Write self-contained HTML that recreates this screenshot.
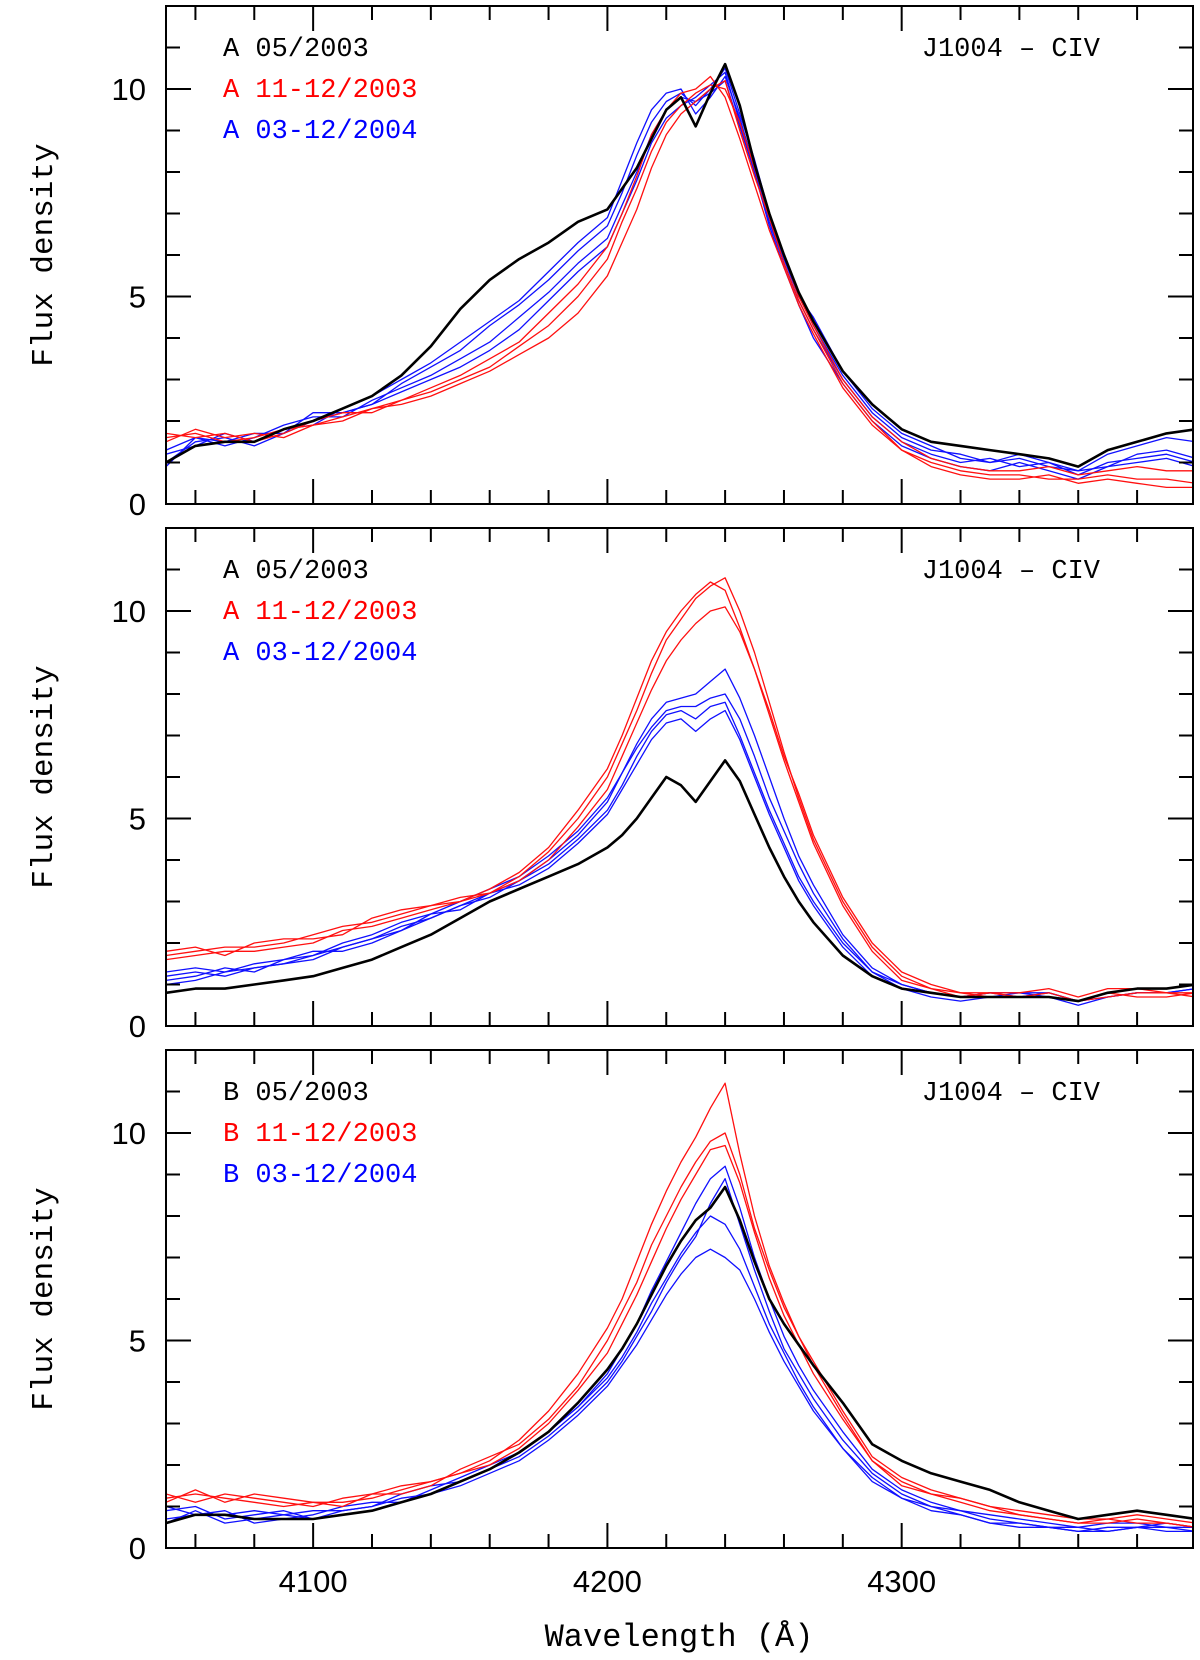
<!DOCTYPE html>
<html><head><meta charset="utf-8"><style>
html,body{margin:0;padding:0;background:#fff;}
svg{display:block;}
</style></head><body>
<svg id="chart" width="1200" height="1660" viewBox="0 0 1200 1660" xmlns="http://www.w3.org/2000/svg"></svg>
<script>
const wl=[4050,4060,4070,4080,4090,4100,4110,4120,4130,4140,4150,4160,4170,4180,4190,4200,4205,4210,4215,4220,4225,4230,4235,4240,4245,4250,4255,4260,4265,4270,4280,4290,4300,4310,4320,4330,4340,4350,4360,4370,4380,4390,4400];
const xTicks=[4100,4200,4300];
const yTicks=[0,5,10];
const legendLabels=[["A 05/2003","A 11-12/2003","A 03-12/2004"],["A 05/2003","A 11-12/2003","A 03-12/2004"],["B 05/2003","B 11-12/2003","B 03-12/2004"]];
// Panel 1
const p1Black=[1.0,1.4,1.5,1.5,1.8,2.0,2.3,2.6,3.1,3.8,4.7,5.4,5.9,6.3,6.8,7.1,7.6,8.1,8.8,9.5,9.8,9.1,9.9,10.6,9.6,8.2,7.0,6.0,5.1,4.4,3.2,2.4,1.8,1.5,1.4,1.3,1.2,1.1,0.9,1.3,1.5,1.7,1.8];
const p1Red1=[1.6,1.7,1.5,1.6,1.8,1.9,2.1,2.3,2.4,2.6,2.9,3.2,3.6,4.0,4.6,5.5,6.3,7.1,8.1,8.9,9.4,9.7,10.0,10.2,9.0,7.9,6.9,5.8,4.9,4.2,2.9,2.0,1.3,1.0,0.8,0.7,0.7,0.6,0.6,0.7,0.6,0.6,0.5];
const p1Red2=[1.7,1.6,1.7,1.5,1.7,2.0,2.2,2.2,2.5,2.7,3.0,3.3,3.8,4.3,5.0,5.9,6.8,7.6,8.5,9.2,9.6,9.9,10.1,10.0,9.2,8.1,7.0,6.0,5.0,4.3,3.0,2.1,1.5,1.1,0.9,0.8,0.8,0.9,0.7,0.8,0.9,0.8,0.8];
const p1Red3=[1.5,1.8,1.6,1.7,1.6,1.9,2.0,2.3,2.5,2.8,3.1,3.5,3.9,4.6,5.3,6.2,7.0,7.9,8.9,9.5,9.9,10.0,10.3,9.8,8.8,7.7,6.6,5.7,4.8,4.1,2.8,1.9,1.3,0.9,0.7,0.6,0.6,0.7,0.5,0.6,0.5,0.4,0.4];
const p1Blue1=[1.0,1.5,1.6,1.4,1.7,2.0,2.2,2.4,2.9,3.3,3.7,4.3,4.8,5.4,6.1,6.7,7.5,8.4,9.2,9.7,9.9,9.6,10.0,10.5,9.4,8.3,7.0,6.0,5.1,4.3,3.1,2.2,1.6,1.3,1.2,1.0,1.1,0.9,0.8,1.2,1.4,1.6,1.5];
const p1Blue2=[1.3,1.6,1.4,1.6,1.9,2.1,2.1,2.5,2.8,3.1,3.5,3.9,4.5,5.1,5.8,6.4,7.2,8.0,8.9,9.5,9.8,9.7,9.9,10.2,9.1,8.0,6.8,5.8,4.9,4.2,3.0,2.1,1.5,1.2,1.0,1.1,0.9,1.0,0.7,1.0,1.1,1.2,1.0];
const p1Blue3=[1.2,1.4,1.7,1.5,1.8,1.9,2.3,2.6,3.0,3.4,3.9,4.4,4.9,5.6,6.3,6.9,7.8,8.7,9.5,9.9,10.0,9.4,9.8,10.3,9.3,8.1,6.9,5.9,5.0,4.5,3.2,2.3,1.7,1.4,1.1,1.0,1.2,1.0,0.8,0.9,1.2,1.3,1.1];
const p1Blue4=[0.9,1.6,1.5,1.7,1.7,2.2,2.2,2.4,2.7,3.0,3.3,3.7,4.2,4.9,5.6,6.2,7.0,7.8,8.7,9.3,9.6,9.8,10.1,10.4,9.2,8.0,6.7,5.7,4.8,4.0,2.9,2.0,1.4,1.1,0.9,0.8,1.0,0.8,0.6,0.9,1.0,1.1,0.9];
// Panel 2
const p2Black=[0.8,0.9,0.9,1.0,1.1,1.2,1.4,1.6,1.9,2.2,2.6,3.0,3.3,3.6,3.9,4.3,4.6,5.0,5.5,6.0,5.8,5.4,5.9,6.4,5.9,5.1,4.3,3.6,3.0,2.5,1.7,1.2,0.9,0.8,0.7,0.7,0.7,0.7,0.6,0.8,0.9,0.9,1.0];
const p2Red1=[1.7,1.8,1.9,1.9,2.0,2.2,2.4,2.5,2.7,2.9,3.0,3.2,3.6,4.2,5.0,6.0,6.8,7.6,8.5,9.3,9.8,10.3,10.6,10.8,10.0,9.0,7.8,6.6,5.5,4.5,3.0,1.9,1.2,0.9,0.8,0.7,0.7,0.8,0.6,0.7,0.8,0.8,0.7];
const p2Red2=[1.6,1.7,1.8,1.8,1.9,2.0,2.3,2.4,2.6,2.8,3.0,3.3,3.7,4.3,5.2,6.2,7.0,7.9,8.8,9.5,10.0,10.4,10.7,10.5,9.6,8.6,7.5,6.4,5.4,4.4,2.9,1.8,1.1,0.9,0.7,0.8,0.7,0.7,0.6,0.8,0.7,0.7,0.8];
const p2Red3=[1.8,1.9,1.7,2.0,2.1,2.1,2.2,2.6,2.8,2.9,3.1,3.2,3.5,4.0,4.8,5.7,6.5,7.3,8.1,8.8,9.3,9.7,10.0,10.1,9.5,8.6,7.6,6.5,5.6,4.6,3.1,2.0,1.3,1.0,0.8,0.8,0.8,0.9,0.7,0.9,0.9,0.8,0.8];
const p2Blue1=[1.2,1.3,1.2,1.4,1.5,1.7,1.9,2.1,2.4,2.6,2.9,3.2,3.5,3.9,4.5,5.2,5.8,6.5,7.1,7.5,7.6,7.4,7.7,7.8,7.0,6.1,5.2,4.4,3.6,3.0,2.0,1.3,0.9,0.8,0.7,0.8,0.8,0.8,0.6,0.8,0.9,0.9,1.0];
const p2Blue2=[1.1,1.2,1.4,1.3,1.6,1.8,1.8,2.0,2.3,2.6,2.9,3.1,3.5,4.0,4.6,5.4,6.1,6.8,7.4,7.8,7.9,8.0,8.3,8.6,7.9,7.0,6.0,5.0,4.1,3.4,2.2,1.4,1.0,0.8,0.7,0.7,0.8,0.7,0.6,0.7,0.8,0.8,0.9];
const p2Blue3=[1.0,1.1,1.3,1.4,1.5,1.6,1.9,2.1,2.3,2.7,2.8,3.2,3.4,3.8,4.4,5.1,5.7,6.3,6.9,7.3,7.4,7.1,7.4,7.6,6.9,6.0,5.1,4.3,3.5,2.9,1.9,1.2,0.9,0.7,0.6,0.7,0.7,0.7,0.5,0.7,0.8,0.8,0.9];
const p2Blue4=[1.3,1.4,1.3,1.5,1.6,1.7,2.0,2.2,2.5,2.7,3.0,3.3,3.6,4.1,4.7,5.5,6.1,6.7,7.2,7.6,7.7,7.7,7.9,8.0,7.4,6.5,5.5,4.7,3.9,3.2,2.1,1.3,1.0,0.8,0.7,0.8,0.7,0.8,0.6,0.8,0.9,0.9,1.0];
// Panel 3
const p3Black=[0.6,0.8,0.8,0.7,0.7,0.7,0.8,0.9,1.1,1.3,1.6,1.9,2.3,2.8,3.5,4.3,4.8,5.4,6.1,6.8,7.4,7.9,8.2,8.7,7.9,6.9,6.0,5.4,4.9,4.4,3.5,2.5,2.1,1.8,1.6,1.4,1.1,0.9,0.7,0.8,0.9,0.8,0.7];
const p3Red1=[1.2,1.3,1.2,1.1,1.0,1.1,1.1,1.2,1.4,1.6,1.8,2.1,2.6,3.3,4.2,5.3,6.0,6.9,7.8,8.6,9.3,9.9,10.6,11.2,9.5,8.0,6.8,5.9,5.1,4.4,3.2,2.1,1.6,1.3,1.2,1.0,0.8,0.7,0.6,0.6,0.7,0.6,0.5];
const p3Red2=[1.3,1.1,1.3,1.2,1.1,1.0,1.2,1.3,1.3,1.5,1.9,2.2,2.5,3.1,3.9,5.0,5.7,6.4,7.3,8.0,8.7,9.3,9.8,10.0,9.0,7.7,6.7,5.8,5.1,4.5,3.3,2.2,1.7,1.4,1.2,1.0,0.9,0.8,0.7,0.7,0.8,0.7,0.6];
const p3Red3=[1.1,1.4,1.1,1.3,1.2,1.1,1.0,1.3,1.5,1.6,1.8,2.0,2.4,3.0,3.8,4.7,5.4,6.1,6.9,7.7,8.4,9.0,9.6,9.7,8.8,7.6,6.5,5.6,4.9,4.2,3.1,2.1,1.5,1.3,1.1,0.9,0.8,0.7,0.6,0.7,0.6,0.6,0.5];
const p3Blue1=[0.9,1.0,0.7,0.8,0.9,0.7,0.9,1.0,1.2,1.3,1.6,1.9,2.2,2.7,3.3,4.0,4.5,5.1,5.7,6.4,7.0,7.5,8.3,8.9,7.8,6.7,5.7,4.8,4.2,3.6,2.6,1.8,1.3,1.0,0.9,0.7,0.6,0.5,0.5,0.4,0.5,0.6,0.5];
const p3Blue2=[0.7,0.8,0.9,0.6,0.7,0.8,1.0,1.1,1.1,1.4,1.7,2.0,2.3,2.8,3.4,4.1,4.6,5.2,5.9,6.5,7.1,7.6,8.0,7.8,7.2,6.3,5.4,4.7,4.0,3.4,2.4,1.7,1.2,1.0,0.8,0.6,0.6,0.5,0.4,0.5,0.5,0.4,0.4];
const p3Blue3=[1.0,0.8,0.8,0.9,0.8,0.9,0.9,1.0,1.3,1.5,1.6,1.9,2.3,2.8,3.4,4.2,4.8,5.4,6.2,6.9,7.6,8.3,8.9,9.2,8.2,7.0,6.0,5.1,4.4,3.8,2.8,1.9,1.4,1.1,0.9,0.8,0.7,0.6,0.5,0.6,0.6,0.5,0.5];
const p3Blue4=[0.6,0.9,0.6,0.7,0.8,0.7,0.8,0.9,1.1,1.3,1.5,1.8,2.1,2.6,3.2,3.9,4.4,4.9,5.5,6.1,6.6,7.0,7.2,7.0,6.7,6.0,5.2,4.5,3.9,3.3,2.4,1.6,1.2,0.9,0.8,0.6,0.5,0.5,0.4,0.4,0.5,0.5,0.4];

const panelsData=[
 {black:p1Black,reds:[p1Red1,p1Red2,p1Red3],blues:[p1Blue1,p1Blue2,p1Blue3,p1Blue4]},
 {black:p2Black,reds:[p2Red1,p2Red2,p2Red3],blues:[p2Blue1,p2Blue2,p2Blue3,p2Blue4]},
 {black:p3Black,reds:[p3Red1,p3Red2,p3Red3],blues:[p3Blue1,p3Blue2,p3Blue3,p3Blue4]}
];

const NS="http://www.w3.org/2000/svg";
const svg=document.getElementById('chart');
const L=166,R=1193,X0=4050,X1=4399,Y0=0,Y1=12,PH=498,GAP=24,TOP0=6;
function xs(v){return L+(v-X0)/(X1-X0)*(R-L);}
function mk(tag,attrs,parent){const e=document.createElementNS(NS,tag);for(const k in attrs)e.setAttribute(k,attrs[k]);(parent||svg).appendChild(e);return e;}

const defs=mk('defs',{});
panelsData.forEach((pd,pi)=>{
  const top=TOP0+pi*(PH+GAP), bot=top+PH;
  const ys=v=>bot-(v-Y0)/(Y1-Y0)*PH;
  const cp=mk('clipPath',{id:'clip'+pi},defs);
  mk('rect',{x:L,y:top,width:R-L,height:PH},cp);
  const g=mk('g',{});
  
  
  const lines=mk('g',{'clip-path':'url(#clip'+pi+')'},g);
  function draw(arr,color,w,name){
    const d=arr.map((v,i)=>(i?'L':'M')+xs(wl[i]).toFixed(1)+' '+ys(v).toFixed(1)).join(' ');
    const p=mk('path',{d:d,fill:'none',stroke:color,'stroke-width':w,'stroke-linejoin':'round'},lines);
    
    
  }
  pd.blues.forEach((a,i)=>draw(a,'#1010ff',1.3,'blue-spectrum-'+(i+1)));
  pd.reds.forEach((a,i)=>draw(a,'#ff1010',1.3,'red-spectrum-'+(i+1)));
  draw(pd.black,'#000',2.6,'black-spectrum');
  // frame
  const fr=mk('rect',{x:L,y:top,width:R-L,height:PH,fill:'none',stroke:'#000','stroke-width':2},g);
  
  
  // x ticks
  for(let v=4060;v<X1;v+=20){
    const major=v%100===0, len=major?25:14, x=xs(v);
    mk('line',{x1:x,x2:x,y1:bot,y2:bot-len,stroke:'#000','stroke-width':2},g);
    mk('line',{x1:x,x2:x,y1:top,y2:top+len,stroke:'#000','stroke-width':2},g);
  }
  // y ticks
  for(let v=1;v<Y1;v++){
    const major=v%5===0,len=major?25:14,y=ys(v);
    mk('line',{x1:L,x2:L+len,y1:y,y2:y,stroke:'#000','stroke-width':2},g);
    mk('line',{x1:R,x2:R-len,y1:y,y2:y,stroke:'#000','stroke-width':2},g);
  }
  yTicks.forEach(v=>{
    const t=mk('text',{x:146,y:ys(v)+11,'text-anchor':'end','font-family':'Liberation Sans, sans-serif','font-size':31},g);
    t.textContent=v;
    
    
  });
  const yl=mk('text',{transform:'translate(52,'+(top+PH/2)+') rotate(-90)','text-anchor':'middle','font-family':'Liberation Mono, monospace','font-size':31},g);
  yl.textContent='Flux density';
  
  
  const cols=['#000','#ff0000','#0000ff'];
  legendLabels[pi].forEach((s,i)=>{
    const t=mk('text',{x:223,y:top+50+i*41,'font-family':'Liberation Mono, monospace','font-size':27,fill:cols[i],'xml:space':'preserve'},g);
    t.textContent=s;
    
    
  });
  const tt=mk('text',{x:1100,y:top+50,'text-anchor':'end','font-family':'Liberation Mono, monospace','font-size':27},g);
  tt.textContent='J1004 \u2013 CIV';
  
  
  if(pi===2){
    xTicks.forEach(v=>{
      const t=mk('text',{x:xs(v),y:bot+44,'text-anchor':'middle','font-family':'Liberation Sans, sans-serif','font-size':31},g);
      t.textContent=v;
      
      
    });
    const xl=mk('text',{x:679,y:1646,'text-anchor':'middle','font-family':'Liberation Mono, monospace','font-size':32},g);
    xl.textContent='Wavelength (\u00C5)';
    
    
  }
});
</script>
</body></html>
